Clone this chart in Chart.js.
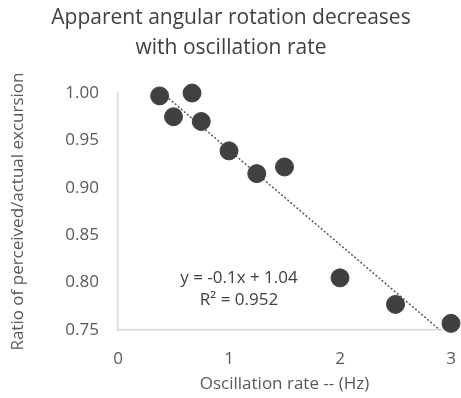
<!DOCTYPE html>
<html>
<head>
<meta charset="utf-8">
<script src="https://cdn.jsdelivr.net/npm/chart.js@4"></script>
<style>
  html, body { margin: 0; padding: 0; background: #fff; }
  #wrap { width: 461px; height: 398px; }
</style>
</head>
<body>
<div id="wrap"><canvas id="chart"></canvas></div>
<script>
// measured points
const rateHz = [0.375, 0.5, 0.667, 0.75, 1, 1.25, 1.5, 2, 2.5, 3];
const ratio = [0.997, 0.975, 1.0, 0.97, 0.939, 0.915, 0.922, 0.805, 0.777, 0.757];

// trendline endpoints (y = -0.1x + 1.04)
const trendX = [0.375, 2.9];
const trendY = [1.0025, 0.75];

const xTicks = [0, 1, 2, 3];
const yTicks = [0.75, 0.80, 0.85, 0.90, 0.95, 1.00];

const eqLines = ['y = -0.1x + 1.04', 'R\u00b2 = 0.952'];

const FONT = '"Open Sans", sans-serif';

const equationLabel = {
  id: 'equationLabel',
  afterDatasetsDraw(chart) {
    const { ctx, scales: { x, y } } = chart;
    ctx.save();
    ctx.font = '17px ' + FONT;
    ctx.fillStyle = '#404040';
    ctx.textAlign = 'center';
    ctx.textBaseline = 'middle';
    ctx.fillText(eqLines[0], x.getPixelForValue(1.09), y.getPixelForValue(0.805));
    ctx.fillText(eqLines[1], x.getPixelForValue(1.09), y.getPixelForValue(0.782));
    ctx.restore();
  }
};

new Chart(document.getElementById('chart'), {
  type: 'scatter',
  data: {
    datasets: [
      {
        label: 'Trend',
        type: 'line',
        data: trendX.map((v, i) => ({ x: v, y: trendY[i] })),
        borderColor: '#595959',
        borderWidth: 1.5,
        borderDash: [2, 2],
        pointRadius: 0,
        fill: false,
        order: 2
      },
      {
        label: 'Ratio',
        data: rateHz.map((v, i) => ({ x: v, y: ratio[i] })),
        backgroundColor: '#404040',
        borderColor: '#404040',
        pointRadius: 9,
        clip: false,
        order: 1
      }
    ]
  },
  options: {
    responsive: true,
    maintainAspectRatio: false,
    animation: false,
    layout: { padding: { left: 4, right: 3, top: 0, bottom: 0 } },
    plugins: {
      legend: { display: false },
      tooltip: { enabled: false },
      title: {
        display: true,
        text: ['Apparent angular rotation decreases', 'with oscillation rate'],
        color: '#404040',
        font: { family: FONT, size: 21, weight: 'normal', lineHeight: 1.43 },
        padding: { top: 3, bottom: 30 }
      }
    },
    scales: {
      x: {
        type: 'linear',
        min: 0,
        max: 3,
        afterBuildTicks: (s) => { s.ticks = xTicks.map(v => ({ value: v })); },
        grid: { display: false, drawTicks: false },
        border: { color: '#d9d9d9', width: 1.5 },
        ticks: { color: '#595959', font: { family: FONT, size: 17 }, padding: 19 },
        title: {
          display: true,
          text: 'Oscillation rate -- (Hz)',
          color: '#595959',
          font: { family: FONT, size: 17 },
          padding: { top: 4 }
        },
        afterFit: (s) => { s.height = 68; s.paddingLeft = 0; s.paddingRight = 0; }
      },
      y: {
        type: 'linear',
        min: 0.75,
        max: 1.0,
        afterBuildTicks: (s) => { s.ticks = yTicks.map(v => ({ value: v })); },
        grid: { display: false, drawTicks: false },
        border: { color: '#d9d9d9', width: 1.5 },
        ticks: {
          color: '#595959',
          font: { family: FONT, size: 17 },
          padding: 19,
          callback: (v) => v.toFixed(2)
        },
        title: {
          display: true,
          text: 'Ratio of perceived/actual excursion',
          color: '#595959',
          font: { family: FONT, size: 17 },
          padding: { bottom: 4 }
        },
        afterFit: (s) => { s.width = 114; s.paddingTop = 0; s.paddingBottom = 0; }
      }
    }
  },
  plugins: [equationLabel]
});
</script>
</body>
</html>
